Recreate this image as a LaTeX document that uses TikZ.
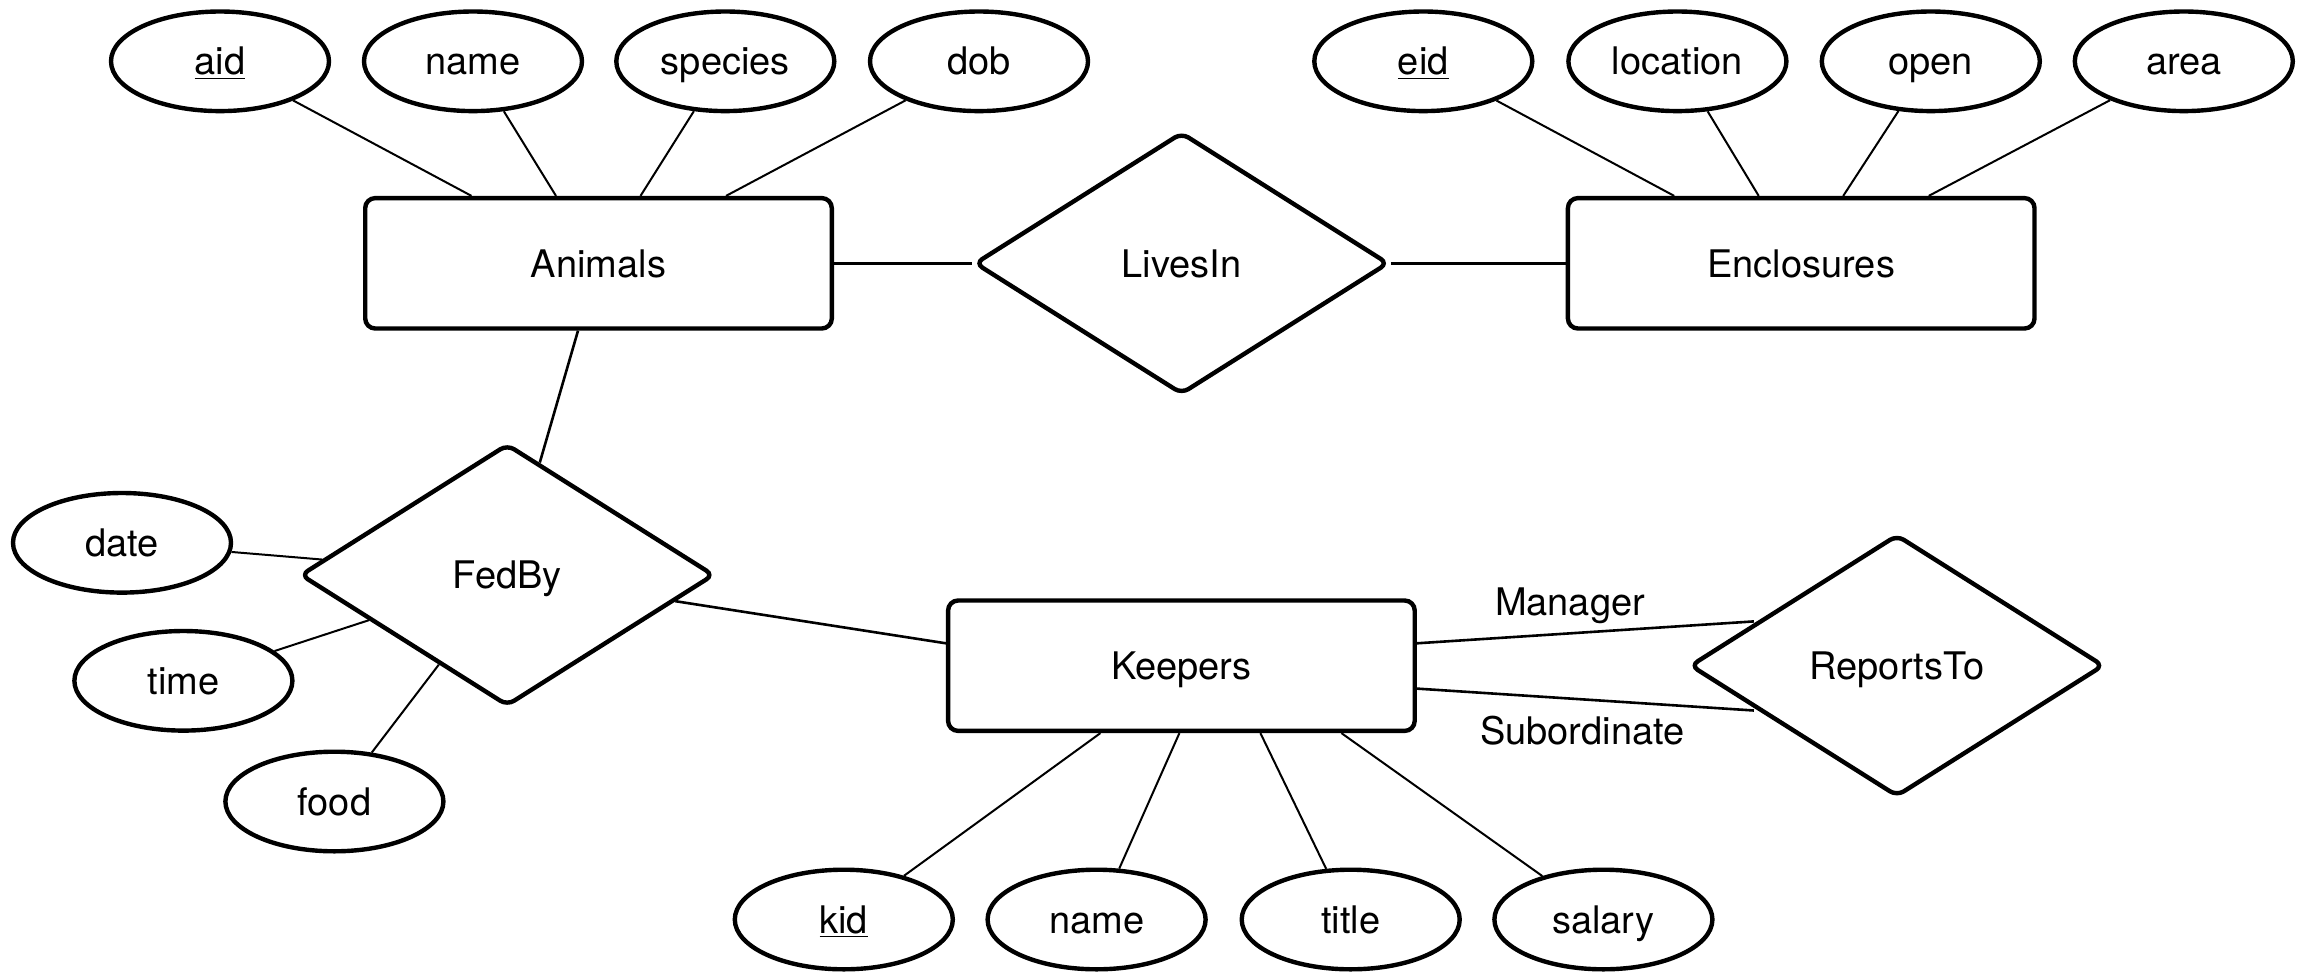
\documentclass[tikz,border=0pt]{standalone}
\usepackage{fontspec}
\setmainfont{TeX Gyre Heros}
\usetikzlibrary{shapes.geometric,calc}
\begin{document}
\begin{tikzpicture}[x=0.5pt,y=-0.5pt,
  txt/.style={font=\fontsize{19}{23}\selectfont,text height=13.7pt,text depth=0pt},
  attr/.style={txt,draw,ellipse,line width=2.2pt,minimum width=109pt,minimum height=49.8pt,inner sep=0pt},
  entity/.style={txt,draw,rectangle,rounded corners=5pt,line width=2.2pt,minimum width=233.3pt,minimum height=65.2pt,inner sep=0pt},
  rel/.style={txt,draw,diamond,rounded corners=4pt,line width=2.2pt,minimum width=207pt,minimum height=131pt,inner sep=0pt},
  aline/.style={line width=1pt},
  rline/.style={line width=1.3pt},
  lbl/.style={txt,inner sep=0pt}
]
\fill[white] (0,0) rectangle (2305,974);
\useasboundingbox (0,0) rectangle (2305,974);

% entities
\node[entity] (Animals) at (598.5,263.3) {Animals};
\node[entity] (Enclosures) at (1801.2,263.3) {Enclosures};
\node[entity] (Keepers) at (1181.4,665.7) {Keepers};

% relationships
\node[rel] (LivesIn) at (1181.6,263.3) {LivesIn};
\node[rel] (FedBy) at (507.2,575) {FedBy};
\node[rel] (ReportsTo) at (1896.9,665.6) {ReportsTo};

% Animals attributes
\node[attr] (aid) at (220,61.3) {\underline{aid}};
\node[attr] (aname) at (473,61.3) {name};
\node[attr] (species) at (725.3,61.3) {species};
\node[attr] (dob) at (979,61.3) {dob};

% Enclosures attributes
\node[attr] (eid) at (1423.3,61.3) {\underline{eid}};
\node[attr] (location) at (1677.4,61.3) {location};
\node[attr] (open) at (1930.8,61.3) {open};
\node[attr] (area) at (2183.8,61.3) {area};

% FedBy attributes
\node[attr] (date) at (122,542.8) {date};
\node[attr] (time) at (183.4,680.8) {time};
\node[attr] (food) at (334.4,801.5) {food};

% Keepers attributes
\node[attr] (kid) at (843.8,919.5) {\underline{kid}};
\node[attr] (kname) at (1096.6,919.5) {name};
\node[attr] (title) at (1350.7,919.5) {title};
\node[attr] (salary) at (1603.4,919.5) {salary};

% attribute connectors
\draw[aline] (aid) -- ($(Animals.north)+(-127,0)$);
\draw[aline] (aname) -- ($(Animals.north)+(-42.5,0)$);
\draw[aline] (species) -- ($(Animals.north)+(42,0)$);
\draw[aline] (dob) -- ($(Animals.north)+(127.5,0)$);

\draw[aline] (eid) -- ($(Enclosures.north)+(-127,0)$);
\draw[aline] (location) -- ($(Enclosures.north)+(-42.5,0)$);
\draw[aline] (open) -- ($(Enclosures.north)+(42,0)$);
\draw[aline] (area) -- ($(Enclosures.north)+(127.5,0)$);

\draw[aline] (date) -- (FedBy);
\draw[aline] (time) -- (FedBy);
\draw[aline] (food) -- (FedBy);

\draw[aline] (kid) -- ($(Keepers.south)+(-81,0)$);
\draw[aline] (kname) -- ($(Keepers.south)+(-2,0)$);
\draw[aline] (title) -- ($(Keepers.south)+(79,0)$);
\draw[aline] (salary) -- ($(Keepers.south)+(160,0)$);

% relationship connectors
\draw[rline] (Animals) -- (LivesIn);
\draw[rline] (LivesIn) -- (Enclosures);
\draw[rline] ($(Animals.south)+(-20.5,0)$) -- (FedBy);
\draw[rline] (FedBy) -- ($(Keepers.west)+(0,-22.4)$);
\draw[rline] ($(Keepers.east)+(0,-22.4)$) -- ($(ReportsTo.center)+(-143,-44.2)$);
\draw[rline] ($(Keepers.east)+(0,22.9)$) -- ($(ReportsTo.center)+(-143,44.9)$);

% role labels
\node[lbl] (mgr) at (1570,602) {Manager};
\node[lbl] (sub) at (1582.4,730.3) {Subordinate};
\end{tikzpicture}
\end{document}
